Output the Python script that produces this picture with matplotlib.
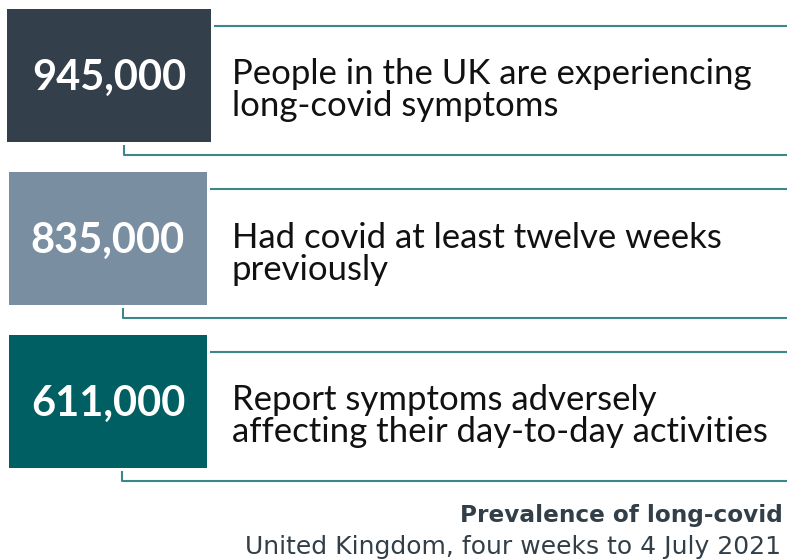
import matplotlib
matplotlib.use("Agg")
import matplotlib.pyplot as plt
from matplotlib.patches import Rectangle

# data
values = [945000, 835000, 611000]
descriptions = [
    "People in the UK are experiencing\nlong-covid symptoms",
    "Had covid at least twelve weeks\npreviously",
    "Report symptoms adversely\naffecting their day-to-day activities",
]
box_colors = ["#333f4a", "#7a8ea2", "#005f63"]
title = "Prevalence of long-covid"
subtitle = "United Kingdom, four weeks to 4 July 2021"

line_col = "#3b8789"
text_col = "#333f48"

plt.rcParams['font.family'] = ['Lato', 'DejaVu Sans']

fig = plt.figure(figsize=(7.87, 5.6), dpi=100)
ax = fig.add_axes([0, 0, 1, 1])
ax.set_xlim(0, 787)
ax.set_ylim(560, 0)
ax.axis('off')

# layout (pixels)
box_x = [7, 9, 9]
box_w = [204, 198, 198]
box_top = [9, 172, 335]
box_h = 133

for i, v in enumerate(values):
    x0, w, y0 = box_x[i], box_w[i], box_top[i]
    ax.add_patch(Rectangle((x0, y0), w, box_h, color=box_colors[i], lw=0))
    ax.text(x0 + w / 2, y0 + box_h / 2 + 2, f"{v:,}", color="white",
            fontsize=30, fontweight="bold", ha="center", va="center")
    # top line
    ax.plot([x0 + w + 3, 787], [y0 + 17, y0 + 17], color=line_col, lw=1.5,
            solid_capstyle="butt")
    # bracket below
    bx = 124 - i
    ax.plot([bx, bx, 787], [y0 + box_h + 3, y0 + box_h + 13, y0 + box_h + 13],
            color=line_col, lw=1.5, solid_capstyle="butt")
    ax.text(232, y0 + box_h / 2 + 15, descriptions[i], color="#111111",
            fontsize=25, ha="left", va="center", linespacing=1.0)

ax.text(783, 522, title, color=text_col, fontsize=16.7, fontweight="bold",
        ha="right", va="baseline", family=['DejaVu Sans'])
ax.text(781, 554, subtitle, color=text_col, fontsize=18,
        ha="right", va="baseline", family=['DejaVu Sans'])

fig.savefig("out.png", dpi=100)
